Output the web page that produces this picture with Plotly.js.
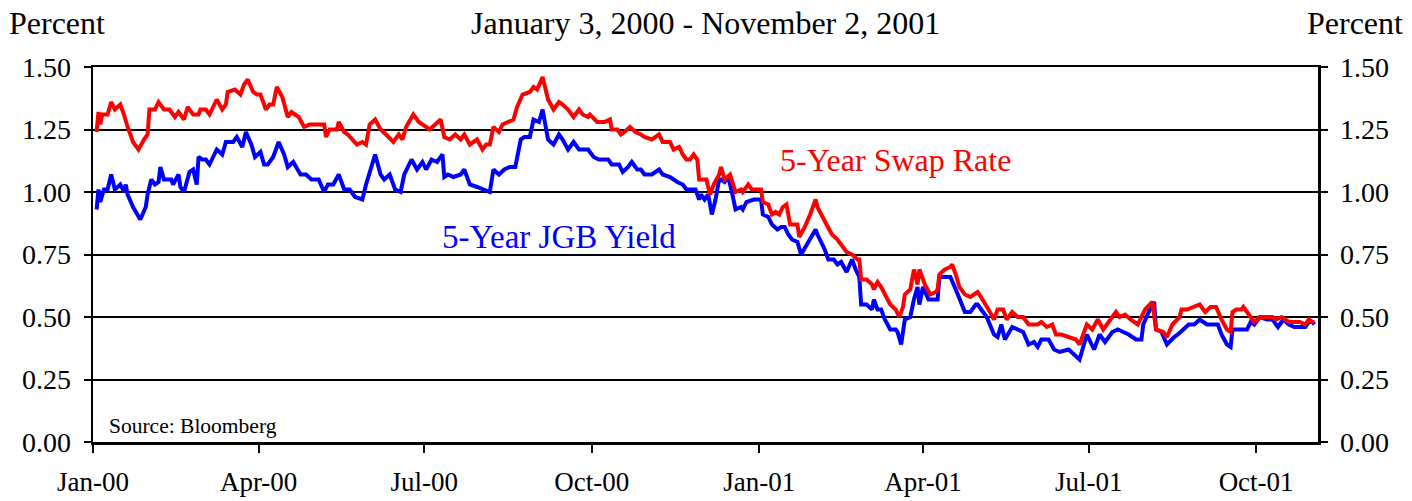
<!DOCTYPE html>
<html>
<head>
<meta charset="utf-8">
<script src="https://cdn.plot.ly/plotly-3.0.1.min.js"></script>
<style>
  html, body { margin: 0; padding: 0; background: #ffffff; }
  #chart { width: 1412px; height: 501px; }
</style>
</head>
<body>
<div id="chart"></div>
<script>
// ---- Data ----
const swapDates = [
 "2000-01-03","2000-01-04","2000-01-05","2000-01-06","2000-01-09","2000-01-11","2000-01-13","2000-01-16","2000-01-18","2000-01-20",
 "2000-01-23","2000-01-26","2000-01-29","2000-01-31","2000-02-01","2000-02-04","2000-02-06","2000-02-09","2000-02-12","2000-02-15",
 "2000-02-17","2000-02-20","2000-02-22","2000-02-25","2000-02-28","2000-02-29","2000-03-03","2000-03-05","2000-03-09","2000-03-12",
 "2000-03-14","2000-03-15","2000-03-19","2000-03-22","2000-03-24","2000-03-26","2000-03-29","2000-03-31","2000-04-02","2000-04-05",
 "2000-04-07","2000-04-09","2000-04-11","2000-04-14","2000-04-17","2000-04-19","2000-04-23","2000-04-26","2000-04-29","2000-05-07",
 "2000-05-08","2000-05-10","2000-05-14","2000-05-15","2000-05-18","2000-05-20","2000-05-25","2000-05-28","2000-05-30","2000-06-01",
 "2000-06-04","2000-06-07","2000-06-10","2000-06-14","2000-06-17","2000-06-19","2000-06-21","2000-06-25","2000-06-28","2000-06-30",
 "2000-07-04","2000-07-07","2000-07-10","2000-07-12","2000-07-15","2000-07-18","2000-07-21","2000-07-23","2000-07-26","2000-07-30",
 "2000-08-02","2000-08-04","2000-08-06","2000-08-08","2000-08-11","2000-08-13","2000-08-16","2000-08-19","2000-08-21","2000-08-23",
 "2000-08-24","2000-08-28","2000-08-30","2000-09-01","2000-09-04","2000-09-05","2000-09-07","2000-09-10","2000-09-13","2000-09-15",
 "2000-09-18","2000-09-21","2000-09-24","2000-09-26","2000-09-29","2000-09-30","2000-10-04","2000-10-08","2000-10-11","2000-10-12",
 "2000-10-15","2000-10-17","2000-10-19","2000-10-22","2000-10-25","2000-10-28","2000-10-30","2000-11-03","2000-11-07","2000-11-09",
 "2000-11-13","2000-11-15","2000-11-18","2000-11-20","2000-11-22","2000-11-24","2000-11-26","2000-11-28","2000-11-29","2000-12-01",
 "2000-12-03","2000-12-05","2000-12-07","2000-12-10","2000-12-11","2000-12-13","2000-12-16","2000-12-19","2000-12-22","2000-12-23",
 "2000-12-26","2000-12-28","2001-01-02","2001-01-03","2001-01-06","2001-01-08","2001-01-10","2001-01-12","2001-01-14","2001-01-16",
 "2001-01-18","2001-01-20","2001-01-22","2001-01-23","2001-01-26","2001-01-29","2001-02-01","2001-02-02","2001-02-04","2001-02-07",
 "2001-02-10","2001-02-13","2001-02-15","2001-02-18","2001-02-21","2001-02-24","2001-02-25","2001-02-26","2001-03-01","2001-03-04",
 "2001-03-05","2001-03-07","2001-03-09","2001-03-11","2001-03-14","2001-03-17","2001-03-19","2001-03-21","2001-03-22","2001-03-25",
 "2001-03-27","2001-03-29","2001-03-30","2001-04-02","2001-04-05","2001-04-08","2001-04-09","2001-04-10","2001-04-13","2001-04-16",
 "2001-04-17","2001-04-19","2001-04-21","2001-04-24","2001-04-27","2001-05-01","2001-05-02","2001-05-07","2001-05-10","2001-05-12",
 "2001-05-15","2001-05-17","2001-05-20","2001-05-23","2001-05-26","2001-05-29","2001-06-01","2001-06-03","2001-06-05","2001-06-08",
 "2001-06-11","2001-06-13","2001-06-16","2001-06-20","2001-06-24","2001-06-26","2001-06-30","2001-07-03","2001-07-06","2001-07-09",
 "2001-07-13","2001-07-16","2001-07-18","2001-07-21","2001-07-24","2001-07-28","2001-08-01","2001-08-05","2001-08-07","2001-08-11",
 "2001-08-13","2001-08-16","2001-08-20","2001-08-21","2001-08-24","2001-08-28","2001-08-31","2001-09-03","2001-09-06","2001-09-09",
 "2001-09-12","2001-09-15","2001-09-17","2001-09-18","2001-09-20","2001-09-23","2001-09-24","2001-09-27","2001-09-30","2001-10-03",
 "2001-10-07","2001-10-10","2001-10-12","2001-10-15","2001-10-19","2001-10-22","2001-10-25","2001-10-28","2001-10-30","2001-11-01",
 "2001-11-02"
];
const swapRate = [
 1.24,1.32,1.27,1.31,1.31,1.36,1.33,1.35,1.31,1.26,
 1.20,1.17,1.21,1.23,1.33,1.33,1.36,1.33,1.33,1.30,
 1.32,1.29,1.34,1.31,1.31,1.33,1.33,1.31,1.37,1.33,
 1.35,1.40,1.41,1.39,1.43,1.45,1.40,1.39,1.39,1.33,
 1.35,1.35,1.42,1.38,1.30,1.32,1.30,1.26,1.27,1.27,
 1.22,1.25,1.25,1.28,1.24,1.23,1.19,1.20,1.19,1.27,
 1.29,1.25,1.23,1.20,1.23,1.21,1.26,1.31,1.28,1.27,
 1.25,1.27,1.29,1.22,1.21,1.23,1.21,1.23,1.19,1.21,
 1.17,1.19,1.19,1.26,1.24,1.27,1.28,1.29,1.34,1.38,
 1.39,1.40,1.42,1.41,1.46,1.43,1.37,1.33,1.36,1.35,
 1.33,1.30,1.33,1.31,1.30,1.31,1.28,1.28,1.29,1.25,
 1.25,1.23,1.24,1.26,1.24,1.23,1.22,1.21,1.23,1.20,
 1.20,1.17,1.18,1.15,1.13,1.13,1.15,1.13,1.05,1.05,
 1.05,0.99,1.03,1.07,1.10,1.05,1.07,1.00,1.01,1.00,
 1.03,1.01,1.01,0.96,0.95,0.91,0.92,0.91,0.94,0.95,
 0.87,0.87,0.87,0.82,0.86,0.91,0.97,0.94,0.91,0.87,
 0.83,0.81,0.79,0.76,0.75,0.73,0.73,0.65,0.65,0.63,
 0.61,0.64,0.62,0.59,0.55,0.53,0.50,0.54,0.59,0.61,
 0.69,0.63,0.69,0.63,0.59,0.60,0.61,0.67,0.69,0.70,
 0.71,0.67,0.62,0.59,0.58,0.60,0.59,0.53,0.49,0.53,
 0.53,0.49,0.52,0.50,0.50,0.47,0.47,0.47,0.48,0.46,
 0.47,0.43,0.43,0.42,0.41,0.39,0.47,0.45,0.49,0.45,
 0.49,0.52,0.50,0.51,0.49,0.47,0.53,0.56,0.45,0.44,
 0.42,0.47,0.50,0.53,0.53,0.54,0.55,0.52,0.54,0.54,
 0.49,0.45,0.44,0.52,0.53,0.53,0.54,0.51,0.48,0.50,
 0.50,0.50,0.49,0.50,0.48,0.48,0.48,0.47,0.49,0.48,
 0.48
];

const jgbDates = [
 "2000-01-03","2000-01-04","2000-01-05","2000-01-07","2000-01-09","2000-01-11","2000-01-13","2000-01-16","2000-01-18","2000-01-19",
 "2000-01-20","2000-01-23","2000-01-27","2000-01-30","2000-01-31","2000-02-02","2000-02-04","2000-02-06","2000-02-07","2000-02-09",
 "2000-02-13","2000-02-14","2000-02-17","2000-02-18","2000-02-20","2000-02-23","2000-02-25","2000-02-27","2000-02-28","2000-03-01",
 "2000-03-03","2000-03-05","2000-03-09","2000-03-12","2000-03-14","2000-03-18","2000-03-20","2000-03-23","2000-03-25","2000-03-28",
 "2000-03-30","2000-04-02","2000-04-04","2000-04-06","2000-04-09","2000-04-12","2000-04-15","2000-04-17","2000-04-20","2000-04-24",
 "2000-04-27","2000-04-30","2000-05-04","2000-05-07","2000-05-09","2000-05-12","2000-05-15","2000-05-18","2000-05-21","2000-05-24",
 "2000-05-28","2000-05-30","2000-06-04","2000-06-07","2000-06-09","2000-06-12","2000-06-15","2000-06-18","2000-06-20","2000-06-24",
 "2000-06-27","2000-06-30","2000-07-02","2000-07-05","2000-07-08","2000-07-11","2000-07-12","2000-07-14","2000-07-17","2000-07-21",
 "2000-07-23","2000-07-26","2000-07-30","2000-08-02","2000-08-06","2000-08-08","2000-08-11","2000-08-14","2000-08-17","2000-08-20",
 "2000-08-23","2000-08-25","2000-08-28","2000-08-30","2000-09-02","2000-09-04","2000-09-06","2000-09-07","2000-09-10","2000-09-13",
 "2000-09-15","2000-09-18","2000-09-21","2000-09-24","2000-09-26","2000-09-29","2000-10-02","2000-10-05","2000-10-07","2000-10-10",
 "2000-10-12","2000-10-16","2000-10-18","2000-10-21","2000-10-23","2000-10-26","2000-10-28","2000-10-30","2000-11-03","2000-11-07",
 "2000-11-09","2000-11-13","2000-11-17","2000-11-20","2000-11-22","2000-11-25","2000-11-27","2000-11-29","2000-11-30","2000-12-02",
 "2000-12-04","2000-12-06","2000-12-08","2000-12-10","2000-12-11","2000-12-13","2000-12-15","2000-12-17","2000-12-19","2000-12-22",
 "2000-12-23","2000-12-25","2000-12-29","2001-01-02","2001-01-03","2001-01-06","2001-01-08","2001-01-11","2001-01-13","2001-01-15",
 "2001-01-17","2001-01-19","2001-01-22","2001-01-24","2001-01-27","2001-01-29","2001-02-01","2001-02-02","2001-02-04","2001-02-06",
 "2001-02-08","2001-02-11","2001-02-13","2001-02-15","2001-02-18","2001-02-21","2001-02-23","2001-02-25","2001-02-26","2001-03-01",
 "2001-03-04","2001-03-05","2001-03-07","2001-03-09","2001-03-11","2001-03-14","2001-03-17","2001-03-18","2001-03-20","2001-03-22",
 "2001-03-25","2001-03-27","2001-03-29","2001-03-30","2001-04-01","2001-04-04","2001-04-07","2001-04-09","2001-04-10","2001-04-13",
 "2001-04-16","2001-04-19","2001-04-21","2001-04-24","2001-04-27","2001-04-30","2001-05-01","2001-05-06","2001-05-10","2001-05-12",
 "2001-05-14","2001-05-16","2001-05-20","2001-05-23","2001-05-26","2001-05-29","2001-06-01","2001-06-03","2001-06-05","2001-06-09",
 "2001-06-12","2001-06-15","2001-06-20","2001-06-23","2001-06-26","2001-06-30","2001-07-04","2001-07-07","2001-07-10","2001-07-14",
 "2001-07-17","2001-07-20","2001-07-23","2001-07-27","2001-07-30","2001-07-31","2001-08-03","2001-08-06","2001-08-07","2001-08-10",
 "2001-08-13","2001-08-17","2001-08-19","2001-08-22","2001-08-25","2001-08-28","2001-08-31","2001-09-04","2001-09-08","2001-09-10",
 "2001-09-12","2001-09-15","2001-09-17","2001-09-18","2001-09-22","2001-09-26","2001-09-28","2001-09-30","2001-10-03","2001-10-07",
 "2001-10-10","2001-10-13","2001-10-16","2001-10-19","2001-10-22","2001-10-28","2001-10-30","2001-11-01","2001-11-02"
];
const jgbYield = [
 0.93,1.01,0.96,1.01,1.01,1.07,1.01,1.03,1.00,1.03,
 0.99,0.94,0.89,0.94,0.99,1.05,1.03,1.04,1.10,1.05,
 1.05,1.03,1.07,1.02,1.00,1.08,1.09,1.03,1.14,1.13,
 1.13,1.11,1.17,1.15,1.20,1.20,1.22,1.18,1.24,1.19,
 1.14,1.16,1.11,1.11,1.14,1.20,1.15,1.10,1.12,1.07,
 1.07,1.05,1.05,1.00,1.03,1.03,1.07,1.01,1.01,0.98,
 0.97,1.03,1.15,1.07,1.05,1.07,1.01,1.00,1.07,1.13,
 1.09,1.12,1.09,1.13,1.12,1.15,1.06,1.07,1.06,1.07,
 1.09,1.03,1.02,1.01,1.00,1.09,1.07,1.09,1.10,1.10,
 1.21,1.22,1.22,1.29,1.28,1.33,1.26,1.21,1.19,1.23,
 1.21,1.17,1.20,1.17,1.17,1.17,1.14,1.13,1.13,1.13,
 1.11,1.11,1.08,1.10,1.12,1.09,1.09,1.07,1.07,1.09,
 1.07,1.06,1.04,1.03,1.01,1.01,1.01,0.97,0.99,0.97,
 0.99,0.91,0.97,1.05,1.05,1.04,1.06,1.00,0.93,0.94,
 0.93,0.96,0.97,0.97,0.91,0.90,0.87,0.85,0.86,0.86,
 0.83,0.81,0.80,0.75,0.79,0.81,0.85,0.83,0.80,0.77,
 0.73,0.73,0.71,0.72,0.68,0.73,0.69,0.66,0.55,0.55,
 0.53,0.57,0.53,0.53,0.49,0.45,0.45,0.44,0.39,0.49,
 0.50,0.57,0.62,0.55,0.62,0.57,0.57,0.57,0.66,0.66,
 0.66,0.61,0.57,0.52,0.52,0.55,0.55,0.50,0.43,0.42,
 0.47,0.41,0.46,0.45,0.44,0.39,0.40,0.38,0.41,0.41,
 0.37,0.36,0.37,0.35,0.33,0.43,0.37,0.43,0.40,0.44,
 0.45,0.44,0.43,0.41,0.41,0.47,0.52,0.56,0.45,0.44,
 0.39,0.42,0.43,0.45,0.47,0.47,0.49,0.47,0.47,0.47,
 0.43,0.39,0.38,0.45,0.45,0.45,0.48,0.47,0.50,0.49,
 0.49,0.46,0.49,0.47,0.46,0.46,0.48,0.48,0.47
];

const tickDates  = ["2000-01-01","2000-04-01","2000-07-01","2000-10-01","2001-01-01","2001-04-01","2001-07-01","2001-10-01"];
const tickLabels = ["Jan-00","Apr-00","Jul-00","Oct-00","Jan-01","Apr-01","Jul-01","Oct-01"];
const yTicks     = [0, 0.25, 0.5, 0.75, 1.0, 1.25, 1.5];

const FONT = "'Liberation Serif', 'Times New Roman', serif";

const traces = [
  { x: jgbDates, y: jgbYield, type: "scatter", mode: "lines", name: "5-Year JGB Yield",
    line: { color: "#0000FF", width: 4 }, yaxis: "y" },
  { x: swapDates, y: swapRate, type: "scatter", mode: "lines", name: "5-Year Swap Rate",
    line: { color: "#FF0000", width: 4 }, yaxis: "y2" }
];

const layout = {
  width: 1412, height: 501,
  margin: { l: 93, r: 94, t: 67, b: 59, pad: 0 },
  paper_bgcolor: "#ffffff", plot_bgcolor: "#ffffff",
  showlegend: false, hovermode: false,
  font: { family: FONT, color: "#000000", size: 26 },
  xaxis: {
    type: "date", range: ["2000-01-01", "2001-11-04"],
    tickmode: "array", tickvals: tickDates, ticktext: tickLabels,
    ticks: "outside", ticklen: 8, tickwidth: 2, tickcolor: "#000",
    showgrid: false, zeroline: false,
    showline: true, linecolor: "#000", linewidth: 2.5, mirror: true,
    tickfont: { family: FONT, size: 27, color: "#000" },
    ticklabelstandoff: 6
  },
  yaxis: {
    range: [0, 1.5], tickmode: "array", tickvals: yTicks, tickformat: ".2f",
    ticks: "outside", ticklen: 7, tickwidth: 2, tickcolor: "#000",
    showgrid: true, gridcolor: "#000", gridwidth: 2, zeroline: false,
    showline: true, linecolor: "#000", linewidth: 2.5,
    tickfont: { family: FONT, size: 28, color: "#000" },
    ticklabelstandoff: 7
  },
  yaxis2: {
    range: [0, 1.5], tickmode: "array", tickvals: yTicks, tickformat: ".2f",
    overlaying: "y", side: "right",
    ticks: "outside", ticklen: 7, tickwidth: 2, tickcolor: "#000",
    showgrid: false, zeroline: false,
    showline: true, linecolor: "#000", linewidth: 2.5,
    tickfont: { family: FONT, size: 28, color: "#000" },
    ticklabelstandoff: 7
  },
  annotations: [
    { text: "Percent", xref: "paper", yref: "paper", x: -0.0702, y: 1.117, xanchor: "left", yanchor: "middle",
      showarrow: false, font: { family: FONT, size: 32, color: "#000" } },
    { text: "Percent", xref: "paper", yref: "paper", x: 1.071, y: 1.117, xanchor: "right", yanchor: "middle",
      showarrow: false, font: { family: FONT, size: 32, color: "#000" } },
    { text: "January 3, 2000 - November 2, 2001", xref: "paper", yref: "paper", x: 0.5, y: 1.117,
      xanchor: "center", yanchor: "middle", showarrow: false, font: { family: FONT, size: 32, color: "#000" } },
    { text: "5-Year Swap Rate", xref: "paper", yref: "paper", x: 0.559, y: 0.751, xanchor: "left", yanchor: "middle",
      showarrow: false, font: { family: FONT, size: 32, color: "#FF0000" } },
    { text: "5-Year JGB Yield", xref: "paper", yref: "paper", x: 0.283, y: 0.546, xanchor: "left", yanchor: "middle",
      showarrow: false, font: { family: FONT, size: 33, color: "#0000FF" } },
    { text: "Source: Bloomberg", xref: "paper", yref: "paper", x: 0.0114, y: 0.042, xanchor: "left", yanchor: "middle",
      showarrow: false, font: { family: FONT, size: 21.5, color: "#000" } }
  ]
};

Plotly.newPlot("chart", traces, layout, { displayModeBar: false, staticPlot: true });
</script>
</body>
</html>
